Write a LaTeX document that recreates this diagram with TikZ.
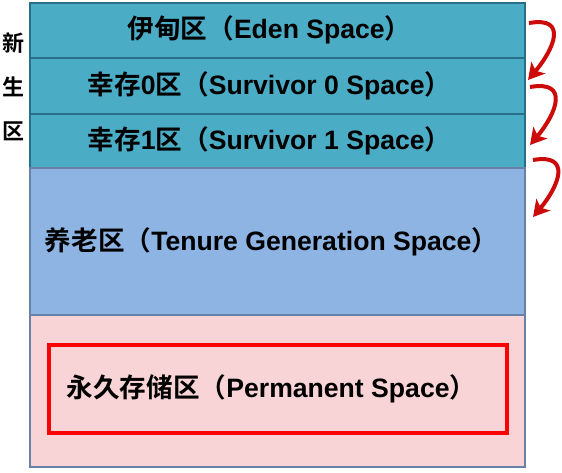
\documentclass[tikz,border=0pt]{standalone}
\usepackage{fontspec}
\setmainfont{Liberation Sans}
\newfontfamily\cjk{Noto Sans CJK SC}[BoldFont={Noto Sans CJK SC Bold}]
\usepackage{xcolor}
\usepackage{tikz}
\usetikzlibrary{arrows.meta, positioning}

\definecolor{edenteal}{RGB}{75,172,198}
\definecolor{tealedge}{RGB}{40,112,138}
\definecolor{tenureblue}{RGB}{141,180,226}
\definecolor{permpink}{RGB}{248,212,215}
\definecolor{greyedge}{RGB}{105,128,168}
\definecolor{arrowred}{RGB}{205,10,10}

\newcommand{\zh}[1]{{\cjk #1}}

\begin{document}
\begin{tikzpicture}[
    zone/.style={rectangle, draw, line width=1pt, minimum width=247.5pt, inner sep=0pt, outer sep=0pt},
    young/.style={zone, fill=edenteal, draw=tealedge},
    old/.style={zone, draw=greyedge},
    lbl/.style={font=\fontsize{13.3}{15}\selectfont\bfseries, inner sep=0pt},
    arrow/.style={-{Stealth[length=8pt,width=9pt,inset=2pt]}, line width=2pt, draw=arrowred}
]
    \useasboundingbox (0,0) rectangle (281pt,-236pt);

    % Young generation
    \node[young, minimum height=27.75pt, anchor=north west] (eden) at (15pt,-1.25pt) {};
    \node[young, minimum height=28pt, below=0pt of eden] (surv0) {};
    \node[young, minimum height=27pt, below=0pt of surv0] (surv1) {};

    % Old generation
    \node[old, fill=tenureblue, minimum height=73.5pt, below=0pt of surv1] (tenure) {};
    \node[old, fill=permpink, minimum height=76pt, below=0pt of tenure] (perm) {};

    % Permanent frame
    \node[rectangle, draw=red, line width=2pt, minimum width=229pt, minimum height=44pt, yshift=1pt] (permframe) at (perm.center) {};

    % Labels
    \node[lbl] (edentext) at ([xshift=-4pt]eden.center) {\zh{伊甸区（}Eden Space\zh{）}};
    \node[lbl] (surv0text) at ([xshift=-4pt]surv0.center) {\zh{幸存}0\zh{区（}Survivor 0 Space\zh{）}};
    \node[lbl] (surv1text) at ([xshift=-4pt]surv1.center) {\zh{幸存}1\zh{区（}Survivor 1 Space\zh{）}};
    \node[lbl] (tenuretext) at ([xshift=-3pt]tenure.center) {\zh{养老区（}Tenure Generation Space\zh{）}};
    \node[lbl] (permtext) at ([xshift=-3pt]permframe.center) {\zh{永久存储区（}Permanent Space\zh{）}};

    \node[font=\fontsize{11}{22}\selectfont\bfseries\cjk, align=center, inner sep=0pt] (younglabel) at (6.75pt,-43.5pt) {新\\生\\区};

    % Arrows
    \draw[arrow] ([xshift=2pt,yshift=3.6pt]eden.east) to[out=10, in=50, looseness=1.8] ([xshift=1.5pt,yshift=3pt]surv0.east);
    \draw[arrow] ([xshift=2.5pt,yshift=-0.5pt]surv0.east) to[out=10, in=50, looseness=1.8] ([xshift=2.5pt,yshift=-2pt]surv1.east);
    \draw[arrow] ([xshift=4pt,yshift=-9.5pt]surv1.east) to[out=10, in=50, looseness=1.8] ([xshift=4pt,yshift=-24.5pt]tenure.north east);
\end{tikzpicture}
\end{document}
